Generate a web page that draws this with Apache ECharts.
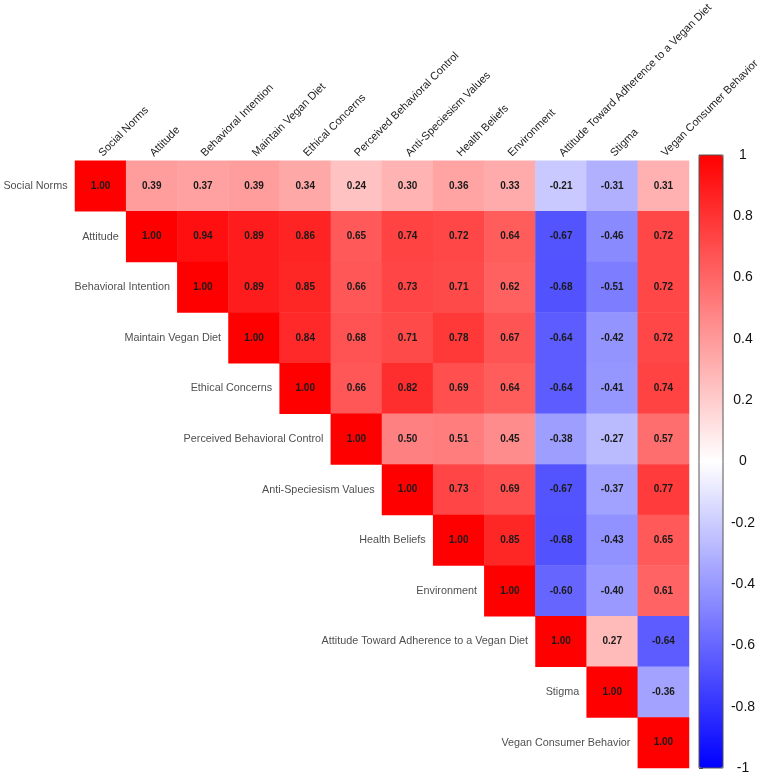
<!DOCTYPE html>
<html>
<head>
<meta charset="utf-8">
<script src="https://cdn.jsdelivr.net/npm/echarts@6/dist/echarts.min.js"></script>
<style>
html, body { margin: 0; padding: 0; background: #fff; }
#chart { width: 767px; height: 779px; }
</style>
</head>
<body>
<div id="chart"></div>
<script>
var variables = [
    'Social Norms', 'Attitude', 'Behavioral Intention', 'Maintain Vegan Diet',
    'Ethical Concerns', 'Perceived Behavioral Control', 'Anti-Speciesism Values',
    'Health Beliefs', 'Environment', 'Attitude Toward Adherence to a Vegan Diet',
    'Stigma', 'Vegan Consumer Behavior'
];

// upper triangle, each row starts at the diagonal
var corrRows = [
    [1.00, 0.39, 0.37, 0.39, 0.34, 0.24, 0.30, 0.36, 0.33, -0.21, -0.31, 0.31],
    [1.00, 0.94, 0.89, 0.86, 0.65, 0.74, 0.72, 0.64, -0.67, -0.46, 0.72],
    [1.00, 0.89, 0.85, 0.66, 0.73, 0.71, 0.62, -0.68, -0.51, 0.72],
    [1.00, 0.84, 0.68, 0.71, 0.78, 0.67, -0.64, -0.42, 0.72],
    [1.00, 0.66, 0.82, 0.69, 0.64, -0.64, -0.41, 0.74],
    [1.00, 0.50, 0.51, 0.45, -0.38, -0.27, 0.57],
    [1.00, 0.73, 0.69, -0.67, -0.37, 0.77],
    [1.00, 0.85, -0.68, -0.43, 0.65],
    [1.00, -0.60, -0.40, 0.61],
    [1.00, 0.27, -0.64],
    [1.00, -0.36],
    [1.00]
];

var scaleMin = -1, scaleMax = 1, scaleStep = 0.2;

var cells = [];
corrRows.forEach(function (row, i) {
    row.forEach(function (v, k) {
        cells.push([i + k, i, v]);
    });
});
var diag = variables.map(function (name, i) { return [i, i, name]; });

var myChart = echarts.init(document.getElementById('chart'));
var fontFam = '"Liberation Sans", Arial, sans-serif';

var option = {
    animation: false,
    backgroundColor: '#fff',
    grid: [
        { left: 75, top: 155, width: 614, height: 613 },
        { left: 699, top: 155, width: 24, height: 613, show: true,
          borderColor: '#555', borderWidth: 1, backgroundColor: 'transparent', z: 10 }
    ],
    xAxis: [
        {
            type: 'category', gridIndex: 0, data: variables, position: 'top',
            axisLine: { show: false }, axisTick: { show: false }, splitLine: { show: false },
            axisLabel: { rotate: -45, interval: 0, margin: 6, fontSize: 11, color: '#222', fontFamily: fontFam }
        },
        {
            type: 'value', gridIndex: 1, min: 0, max: 1, show: false
        }
    ],
    yAxis: [
        {
            type: 'category', gridIndex: 0, data: variables, inverse: true,
            axisLine: { show: false }, axisTick: { show: false }, axisLabel: { show: false }, splitLine: { show: false }
        },
        {
            type: 'value', gridIndex: 1, min: scaleMin, max: scaleMax, interval: scaleStep, position: 'right',
            axisLine: { show: false },
            axisTick: { show: true, inside: false, length: 4, lineStyle: { color: '#444' } },
            splitLine: { show: false },
            axisLabel: {
                margin: 20, align: 'center', fontSize: 14, color: '#111', fontFamily: fontFam,
                formatter: function (v) { return String(Number(v.toFixed(1))); }
            }
        }
    ],
    visualMap: {
        type: 'continuous', min: scaleMin, max: scaleMax, seriesIndex: 0,
        calculable: false, orient: 'vertical', left: 699, top: 155, padding: 0,
        itemWidth: 24, itemHeight: 613, text: null, showLabel: false,
        inRange: { color: ['#0000FF', '#FFFFFF', '#FF0000'] }
    },
    series: [
        {
            type: 'heatmap', xAxisIndex: 0, yAxisIndex: 0, data: cells,
            label: {
                show: true, fontSize: 10, fontWeight: 'bold', color: '#1a1a1a', fontFamily: fontFam,
                formatter: function (p) { return p.value[2].toFixed(2); }
            },
            itemStyle: { borderWidth: 0 },
            emphasis: { disabled: true }
        },
        {
            type: 'scatter', xAxisIndex: 0, yAxisIndex: 0, data: diag, symbolSize: 0,
            label: {
                show: true, position: 'left', distance: 33, fontSize: 10.8, color: '#222', fontFamily: fontFam,
                formatter: function (p) { return p.value[2]; }
            },
            silent: true
        }
    ]
};

myChart.setOption(option);
</script>
</body>
</html>
